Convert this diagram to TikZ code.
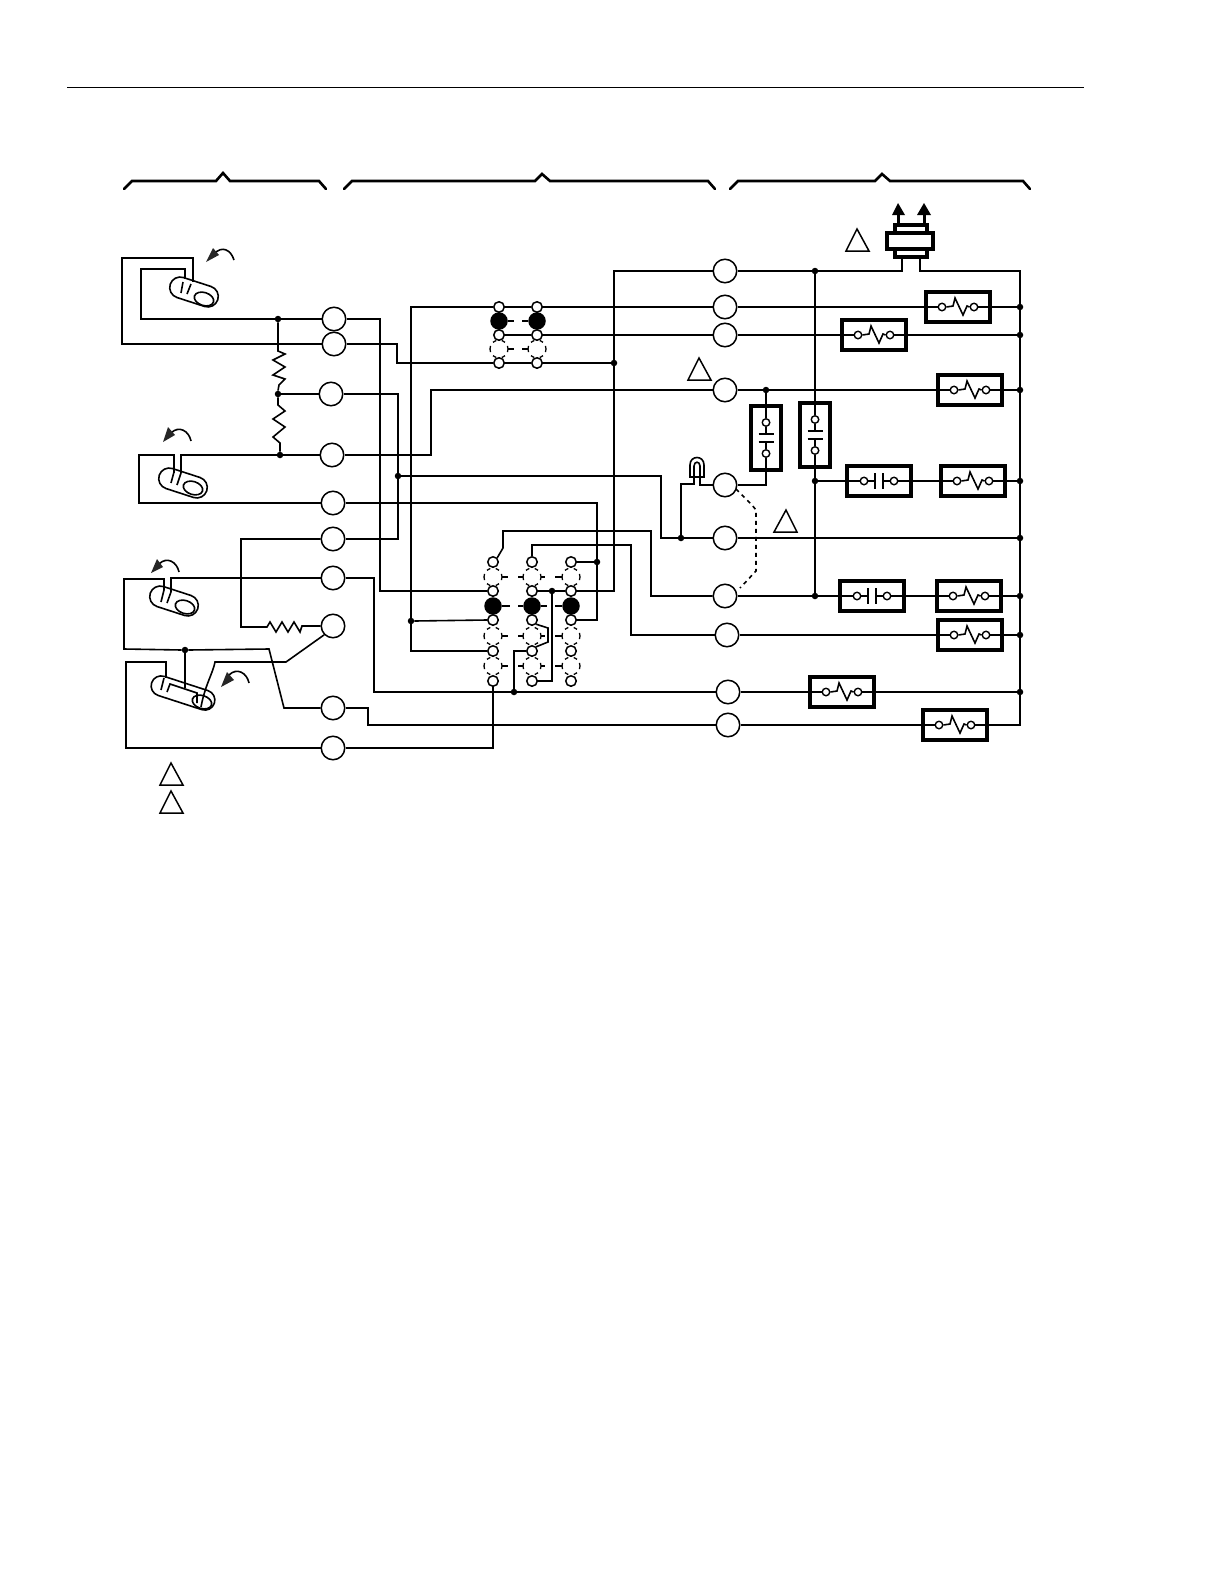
\documentclass[tikz,border=0pt]{standalone}
\usetikzlibrary{shapes.geometric,shapes.misc,calc}
\tikzset{
  x=1pt,y=-1pt,
  wire/.style={line width=1.6pt,line join=miter},
  thickwire/.style={line width=2pt},
  term/.style={circle,draw,line width=1.5pt,minimum size=23.5pt,inner sep=0pt,fill=white},
  dot/.style={circle,fill=black,minimum size=6.5pt,inner sep=0pt},
  contact/.style={circle,draw,line width=1.5pt,minimum size=10.5pt,inner sep=0pt,fill=white},
  tiny/.style={circle,draw,line width=1.4pt,minimum size=7.5pt,inner sep=0pt,fill=white},
  blackc/.style={circle,fill=black,minimum size=17.5pt,inner sep=0pt},
  heavybox/.style={draw,line width=3.5pt,minimum width=64pt,minimum height=30pt,inner sep=0pt},
  vheavybox/.style={draw,line width=3.5pt,minimum width=30pt,minimum height=64pt,inner sep=0pt},
  capsule/.style={rounded rectangle,draw,line width=1.6pt,minimum width=50pt,minimum height=21pt,inner sep=0pt,rotate=-18},
  capsulelong/.style={capsule,minimum width=66pt,minimum height=20pt},
  ovalc/.style={ellipse,draw,line width=1.6pt,minimum width=20pt,minimum height=13pt,inner sep=0pt,rotate=-18},
  tri/.style={draw,line width=1.5pt,line join=miter,fill=white},
  brace/.style={line width=2.6pt,line cap=round},
}
\newcommand{\coilbox}[3]{%
  \node[heavybox] (#1) at (#2,#3) {};
  \node[tiny] (#1a) at (#2-16,#3) {};
  \node[tiny] (#1b) at (#2+16,#3) {};
  \begin{scope}[shift={(#2,#3)}]
    \draw[wire] (#1a.east) -- (-5,-1) -- (-3,-9) -- (5,8) -- (9,-1) -- (#1b.west);
  \end{scope}}
\newcommand{\hcapbox}[3]{%
  \node[heavybox] (#1) at (#2,#3) {};
  \node[tiny] (#1a) at (#2-15,#3) {};
  \node[tiny] (#1b) at (#2+15,#3) {};
  \begin{scope}[shift={(#2,#3)}]
    \draw[wire] (#1a.east) -- (-4,0) (-4,-8) -- (-4,8) (4,-8) -- (4,8) (4,0) -- (#1b.west);
  \end{scope}}
\newcommand{\vcapbox}[3]{%
  \node[vheavybox] (#1) at (#2,#3) {};
  \node[tiny] (#1a) at (#2,#3-15.5) {};
  \node[tiny] (#1b) at (#2,#3+15.5) {};
  \begin{scope}[shift={(#2,#3)}]
    \draw[wire] (#1a.south) -- (0,-4) (-7.5,-4) -- (7.5,-4) (-7.5,4) -- (7.5,4) (0,4) -- (#1b.north);
  \end{scope}}
\newcommand{\dashcirc}[2]{%
  \foreach \sa/\ea in {160/200,-20/20,48/72,108/132,-72/-48,-132/-108} {
    \draw[line width=1.3pt] (#1,#2) ++(\sa:9pt) arc[start angle=\sa,end angle=\ea,radius=9pt];
  }}
\begin{document}
\begin{tikzpicture}
\useasboundingbox (0,0) rectangle (1222,1584);
\fill[white] (0,0) rectangle (1222,1584);
% top rule
\draw[line width=1pt] (67,87.5) -- (1084,87.5);
% braces
\draw[brace] (124,189) -- (132,181) -- (216,181) -- (223,173) -- (230,181) -- (319,181) -- (326,189);
\draw[brace] (344,189) -- (352,181) -- (535,181) -- (542,174) -- (550,181) -- (708,181) -- (715,189);
\draw[brace] (730,189) -- (738,181) -- (875,181) -- (882,174) -- (890,181) -- (1023,181) -- (1030,189);
% terminals left
\node[term] (T1) at (334,319) {};
\node[term] (T2) at (334,344) {};
\node[term] (T3) at (331,394) {};
\node[term] (T4) at (332,455) {};
\node[term] (T5) at (333,503) {};
\node[term] (T6) at (333,539) {};
\node[term] (T7) at (333,578) {};
\node[term] (T8) at (333,626) {};
\node[term] (T9) at (333,708) {};
\node[term] (T10) at (333,748) {};
% terminals right
\node[term] (R1) at (725,271) {};
\node[term] (R2) at (725,307) {};
\node[term] (R3) at (725,335) {};
\node[term] (R4) at (725,390) {};
\node[term] (R5) at (725,485) {};
\node[term] (R6) at (725,538) {};
\node[term] (R7) at (725,596) {};
\node[term] (R8) at (727,635) {};
\node[term] (R9) at (728,692) {};
\node[term] (R10) at (728,725) {};
% switches
\node[capsule] (S1) at (194,292) {};
\node[ovalc] (O1) at (204,299) {};
\node[capsule] (S2) at (183,483) {};
\node[ovalc] (O2) at (193,488) {};
\node[capsule] (S3) at (174,601) {};
\node[ovalc] (O3) at (185,607) {};
\node[capsulelong] (S4) at (183,693) {};
\node[ovalc] (O4) at (202,702) {};
\draw[wire] (183,282) -- (181,293) (191,284) -- (187,294);
\draw[wire] (174,472) -- (171,483) (181,473) -- (177,485);
\draw[wire] (164,590) -- (161,602) (171,592) -- (167,603);
\draw[wire] (164,678) -- (161,690) (167,692) -- (170,684) -- (197,693) -- (197,703);
% rotation arrows
\draw[wire] (234,260) .. controls (231,250) and (222,245) .. (214,254);
\fill[black!85] (213,248) -- (219,255) -- (206,262) -- cycle;
\draw[wire] (191,441) .. controls (189,431) and (179,425) .. (171,433);
\fill[black!85] (168,427) -- (175,435) -- (163,442) -- cycle;
\draw[wire] (179,572) .. controls (177,562) and (167,556) .. (159,564);
\fill[black!85] (157,559) -- (163,567) -- (151,573) -- cycle;
\draw[wire] (249,683) .. controls (247,673) and (237,667) .. (229,675);
\fill[black!85] (227,672) -- (234,680) -- (221,687) -- cycle;
% left junctions
\node[dot] (J1) at (278,319) {};
\node[dot] (J2) at (278,394) {};
\node[dot] (J3) at (280,455) {};
\node[dot] (J4) at (398,476) {};
\node[dot] (J5) at (411,621) {};
\node[dot] (J6) at (185,650) {};
% switch 1 wiring
\draw[wire] (T2.west) -- (122,344) -- (122,258) -- (193,258) -- (193,282);
\draw[wire] (185,279) -- (185,269) -- (141,269) -- (141,319) -- (J1.west);
\draw[wire] (J1.east) -- (T1.west);
% resistor chain
\draw[wire] (J1.south) -- (278,351) -- (285,354) -- (273,360) -- (285,367) -- (273,375) -- (285,379) -- (279,385) -- (J2.north);
\draw[wire] (J2.south) -- (278,405) -- (285,411) -- (273,419) -- (285,427) -- (273,437) -- (280,443) -- (J3.north);
\draw[wire] (J2.east) -- (T3.west);
\draw[wire] (J3.east) -- (T4.west);
% switch 2 wiring
\draw[wire] (J3.west) -- (181,455) -- (181,473);
\draw[wire] (T5.west) -- (139,503) -- (139,455) -- (174,455) -- (174,473);
% switch 3/4 wiring
\draw[wire] (T7.west) -- (171,578) -- (171,592);
\draw[wire] (164,590) -- (164,579) -- (124,579) -- (124,649) -- (J6.west);
\draw[wire] (J6.east) -- (269,649) -- (284,708) -- (T9.west);
\draw[wire] (J6.south) -- (185,688);
\draw[wire] (T6.west) -- (241,539) -- (241,627) -- (267,627) -- (270,622) -- (276,632) -- (282,622) -- (288,632) -- (294,622) -- (300,632) -- (302,626) -- (T8.west);
\draw[wire] (T8.south west) -- (286,662) -- (215,662) .. controls (213,673) and (205,685) .. (201,707);
\draw[wire] (T10.west) -- (126,748) -- (126,662) -- (166,662) -- (166,678);
% legend triangles and flags
\draw[tri] (857,229) -- (846,251) -- (869,251) -- cycle;
\draw[tri] (699,358) -- (688,380) -- (711,380) -- cycle;
\draw[tri] (786,510) -- (774,532) -- (797,532) -- cycle;
\draw[tri] (171,763) -- (160,785) -- (183,785) -- cycle;
\draw[tri] (171,791) -- (160,813) -- (183,813) -- cycle;
% upper contact block
\node[blackc] (BA) at (499,321) {};
\node[blackc] (BB) at (537,321) {};
\dashcirc{499}{349}
\dashcirc{537}{349}
\draw[thickwire] (BA.east) -- (514,321) (522,321) -- (BB.west);
\draw[wire] (508,349) -- (514,349) (522,349) -- (528,349);
\node[contact] (Aa) at (499,307) {};
\node[contact] (Ba) at (537,307) {};
\node[contact] (Ab) at (499,335) {};
\node[contact] (Bb) at (537,335) {};
\node[contact] (Ac) at (499,363) {};
\node[contact] (Bc) at (537,363) {};
% lower contact block
\node[blackc] (K1) at (493,606) {};
\node[blackc] (K2) at (532,606) {};
\node[blackc] (K3) at (571,606) {};
\foreach \cx in {493,532,571} {
  \dashcirc{\cx}{577}
  \dashcirc{\cx}{636}
  \dashcirc{\cx}{666}
}
\foreach \ry in {577,636,666} {
  \draw[wire] (502,\ry) -- (508,\ry) (518,\ry) -- (523,\ry) (541,\ry) -- (545,\ry) (555,\ry) -- (562,\ry);
}
\draw[thickwire] (K1.east) -- (510,606) (518,606) -- (K2.west) (K2.east) -- (547,606) (555,606) -- (K3.west);
\node[contact] (c1a) at (493,562) {};
\node[contact] (c2a) at (532,562) {};
\node[contact] (c3a) at (571,562) {};
\node[contact] (c1b) at (493,591) {};
\node[contact] (c2b) at (532,591) {};
\node[contact] (c3b) at (571,591) {};
\node[contact] (c1c) at (493,620) {};
\node[contact] (c2c) at (532,620) {};
\node[contact] (c3c) at (571,620) {};
\node[contact] (c1d) at (493,651) {};
\node[contact] (c2d) at (532,651) {};
\node[contact] (c3d) at (571,651) {};
\node[contact] (c1e) at (493,681) {};
\node[contact] (c2e) at (532,681) {};
\node[contact] (c3e) at (571,681) {};
% mid junctions
\node[dot] (M1) at (614,363) {};
\node[dot] (M2) at (597,562) {};
\node[dot] (M3) at (552,591) {};
\node[dot] (M4) at (514,692) {};
% middle wiring
\draw[wire] (T1.east) -- (380,319) -- (380,591) -- (c1b.west);
\draw[wire] (T2.east) -- (397,344) -- (397,363) -- (Ac.west);
\draw[wire] (Ac.east) -- (Bc.west);
\draw[thickwire] (Bc.east) -- (M1.west);
\draw[wire] (T3.east) -- (398,394) -- (J4.north);
\draw[wire] (J4.south) -- (398,539) -- (T6.east);
\draw[wire] (T4.east) -- (431,455) -- (431,390) -- (R4.west);
\draw[wire] (J4.east) -- (661,476) -- (661,538) -- (R6.west);
\draw[wire] (T5.east) -- (597,503) -- (M2.north);
\draw[wire] (M2.south) -- (597,620) -- (c3c.east);
\draw[wire] (M2.west) -- (c3a.east);
\draw[thickwire] (Aa.east) -- (Ba.west);
\draw[wire] (Ba.east) -- (R2.west);
\draw[wire] (Ab.east) -- (Bb.west);
\draw[wire] (Bb.east) -- (R3.west);
\draw[wire] (Aa.west) -- (411,307) -- (J5.north);
\draw[wire] (J5.east) -- (c1c.west);
\draw[wire] (J5.south) -- (411,651) -- (c1d.west);
\draw[wire] (R1.west) -- (614,271) -- (M1.north);
\draw[wire] (M1.south) -- (614,591) -- (c3b.east);
\draw[wire] (c3b.west) -- (M3.east);
\draw[wire] (M3.west) -- (c2b.east);
\draw[thickwire] (M3.south) -- (552,681) -- (c2e.east);
\draw[wire] (c1a.north east) -- (503,548) -- (503,531) -- (651,531) -- (651,596) -- (R7.west);
\draw[wire] (c2a.north) -- (532,545) -- (631,545) -- (631,635) -- (R8.west);
\draw[wire] (c2c.south east) -- (548,628) -- (548,642) -- (c2d.north east);
\draw[thickwire] (M4.north) -- (514,651) -- (c2d.west);
\draw[wire] (T7.east) -- (374,578) -- (374,692) -- (M4.west);
\draw[wire] (M4.east) -- (R9.west);
\draw[wire] (T9.east) -- (368,708) -- (368,725) -- (R10.west);
\draw[wire] (T10.east) -- (493,748) -- (c1e.south);
% right boxes
\coilbox{C1}{958}{307}
\coilbox{C2}{874}{335}
\coilbox{C3}{970}{390}
\coilbox{C4}{973}{481}
\coilbox{C5}{969}{596}
\coilbox{C6}{970}{635}
\coilbox{C7}{842}{692}
\coilbox{C8}{955}{725}
\hcapbox{H1}{879}{481}
\hcapbox{H2}{872}{596}
\vcapbox{V1}{766}{438}
\vcapbox{V2}{815}{435}
% right junctions
\node[dot] (Q1) at (815,271) {};
\node[dot] (Q2) at (766,390) {};
\node[dot] (Q3) at (815,481) {};
\node[dot] (Q4) at (815,596) {};
\node[dot] (Q5) at (681,538) {};
\node[dot] (B2) at (1020,307) {};
\node[dot] (B3) at (1020,335) {};
\node[dot] (B4) at (1020,390) {};
\node[dot] (B5) at (1020,481) {};
\node[dot] (B6) at (1020,538) {};
\node[dot] (B7) at (1020,596) {};
\node[dot] (B8) at (1020,635) {};
\node[dot] (B9) at (1020,692) {};
% relay symbol
\node[draw,line width=3.2pt,minimum width=32pt,minimum height=8pt,inner sep=0pt] (RLb) at (911,253) {};
\node[draw,line width=3.2pt,minimum width=32pt,minimum height=8pt,inner sep=0pt] (RLt) at (911,229) {};
\node[draw,line width=3.4pt,minimum width=46pt,minimum height=16pt,inner sep=0pt,fill=white] (RLm) at (910,241) {};
\draw[line width=3pt] (898,225) -- (898,214) (924,225) -- (924,214);
\fill (892,215) -- (905,215) -- (898,203) -- cycle;
\fill (917,215) -- (931,215) -- (924,203) -- cycle;
% right wiring
\draw[wire] (R1.east) -- (Q1.west);
\draw[wire] (Q1.east) -- (902,271) -- (902,257);
\draw[wire] (920,257) -- (920,271) -- (1020,271) -- (B2.north);
\draw[wire] (B2.south) -- (B3.north);
\draw[wire] (B3.south) -- (B4.north);
\draw[wire] (B4.south) -- (B5.north);
\draw[wire] (B5.south) -- (B6.north);
\draw[wire] (B6.south) -- (B7.north);
\draw[wire] (B7.south) -- (B8.north);
\draw[wire] (B8.south) -- (B9.north);
\draw[wire] (B9.south) -- (1020,725) -- (C8b.east);
\draw[wire] (R2.east) -- (C1a.west);
\draw[wire] (C1b.east) -- (B2.west);
\draw[wire] (R3.east) -- (C2a.west);
\draw[wire] (C2b.east) -- (B3.west);
\draw[wire] (R4.east) -- (Q2.west);
\draw[wire] (Q2.east) -- (C3a.west);
\draw[wire] (C3b.east) -- (B4.west);
\draw[wire] (Q2.south) -- (V1a.north);
\draw[wire] (V1b.south) -- (766,485) -- (R5.east);
\draw[wire] (Q1.south) -- (V2a.north);
\draw[wire] (V2b.south) -- (Q3.north);
\draw[wire] (Q3.south) -- (Q4.north);
\draw[wire] (Q3.east) -- (H1a.west);
\draw[wire] (H1b.east) -- (C4a.west);
\draw[wire] (C4b.east) -- (B5.west);
\draw[wire] (R6.east) -- (B6.west);
\draw[wire] (R7.east) -- (Q4.west);
\draw[wire] (Q4.east) -- (H2a.west);
\draw[wire] (H2b.east) -- (C5a.west);
\draw[wire] (C5b.east) -- (B7.west);
\draw[wire] (R8.east) -- (C6a.west);
\draw[wire] (C6b.east) -- (B8.west);
\draw[wire] (R9.east) -- (C7a.west);
\draw[wire] (C7b.east) -- (B9.west);
\draw[wire] (R10.east) -- (C8a.west);
% thermal element
\draw[wire] (690,477) -- (690,465) .. controls (690,455) and (704,455) .. (704,465) -- (704,477) -- cycle;
\draw[wire] (694,477) -- (694,466) .. controls (694,461) and (700,461) .. (700,466) -- (700,477);
\draw[wire] (700,477) -- (700,485) -- (R5.west);
\draw[wire] (694,477) -- (694,484) -- (681,484) -- (Q5.north);
% dashed linkage
\draw[wire,dashed,dash pattern=on 4pt off 4pt] (736,489) -- (752,505) -- (756,510) -- (756,571) -- (740,588);
\end{tikzpicture}
\end{document}
